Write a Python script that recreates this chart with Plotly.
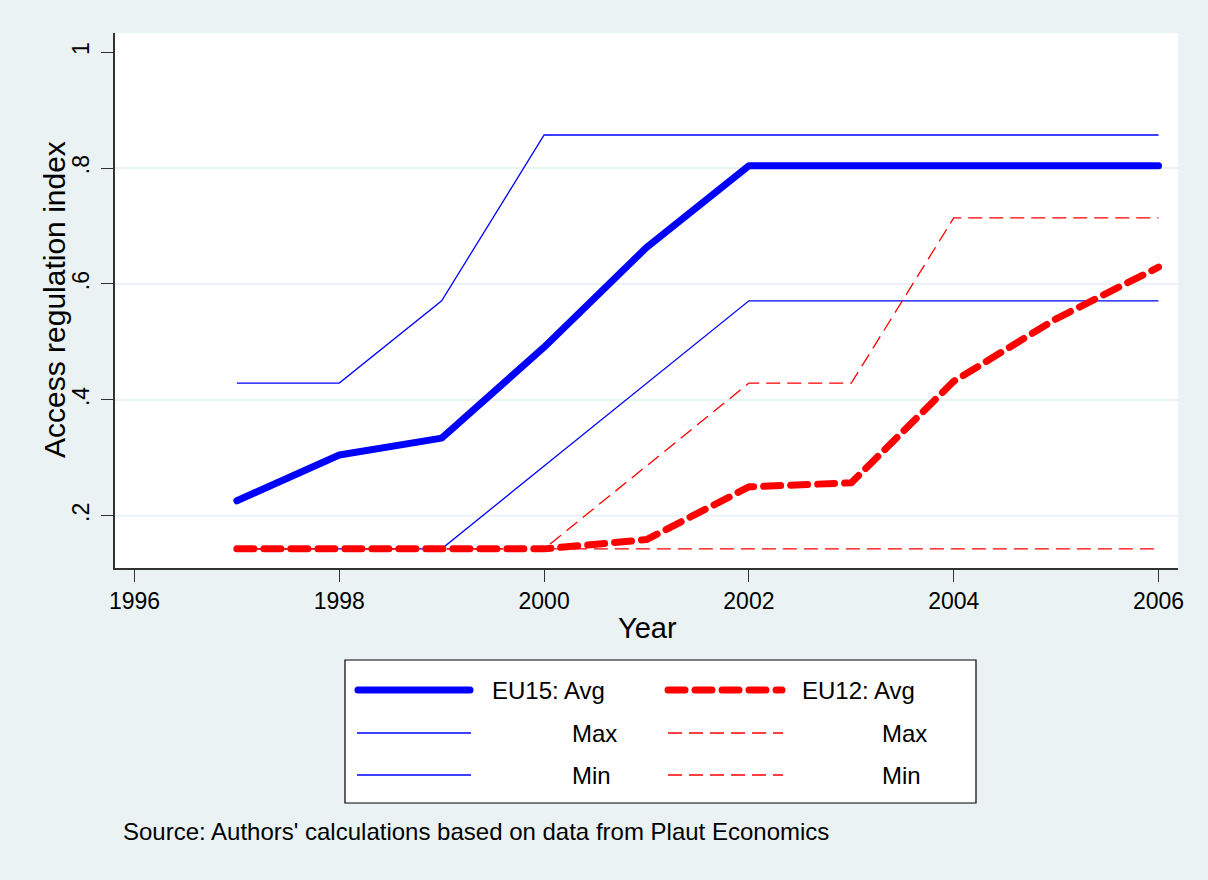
import plotly.graph_objects as go

# ---- data ----
years = [1997, 1998, 1999, 2000, 2001, 2002, 2003, 2004, 2005, 2006]
eu15_avg = [0.226, 0.305, 0.334, 0.491, 0.663, 0.804, 0.804, 0.804, 0.804, 0.804]
eu15_max = [0.429, 0.429, 0.571, 0.857, 0.857, 0.857, 0.857, 0.857, 0.857, 0.857]
eu15_min = [0.143, 0.143, 0.143, 0.286, 0.429, 0.571, 0.571, 0.571, 0.571, 0.571]
eu12_avg = [0.143, 0.143, 0.143, 0.143, 0.159, 0.250, 0.257, 0.432, 0.540, 0.629]
eu12_max = [0.143, 0.143, 0.143, 0.143, 0.286, 0.429, 0.429, 0.714, 0.714, 0.714]
eu12_min = [0.143, 0.143, 0.143, 0.143, 0.143, 0.143, 0.143, 0.143, 0.143, 0.143]

x_ticks = [1996, 1998, 2000, 2002, 2004, 2006]
y_ticks = [0.2, 0.4, 0.6, 0.8, 1.0]
y_ticklabels = [".2", ".4", ".6", ".8", "1"]

legend_labels = ["EU15: Avg", "EU12: Avg", "Max", "Max", "Min", "Min"]
source_note = "Source: Authors' calculations based on data from Plaut Economics"

# ---- style ----
BG = "rgb(234,242,243)"
BLUE = "rgb(0,0,255)"
RED = "rgb(255,0,0)"
FONT = "Liberation Sans, Arial, sans-serif"
W, H = 1208, 880
PL, PR, PT, PB = 115, 1178, 33, 568
THICK_DASH = "17px,10px"
THIN_DASH = "14px,7px"


def pxx(x):
    return (x - PL) / (PR - PL)


def pxy(y):
    return (PB - y) / (PB - PT)


fig = go.Figure()
series = [
    (eu15_avg, BLUE, 7, "solid"),
    (eu15_max, BLUE, 1.3, "solid"),
    (eu15_min, BLUE, 1.3, "solid"),
    (eu12_avg, RED, 7, THICK_DASH),
    (eu12_max, RED, 1.3, THIN_DASH),
    (eu12_min, RED, 1.3, THIN_DASH),
]
for vals, col, w, dash in series:
    fig.add_trace(go.Scatter(x=years, y=vals, mode="lines",
                             line=dict(color=col, width=w, dash=dash),
                             showlegend=False, hoverinfo="skip"))

shapes = []
# horizontal gridlines (not at the top tick)
for v in y_ticks[:-1]:
    shapes.append(dict(type="line", xref="paper", yref="y", x0=0, x1=1, y0=v, y1=v,
                       line=dict(color=BG, width=2), layer="below"))

# legend box
shapes.append(dict(type="rect", xref="paper", yref="paper",
                   x0=pxx(345), x1=pxx(976), y0=pxy(660), y1=pxy(803),
                   line=dict(color="black", width=1.2), fillcolor="white"))
rows = [690, 733, 775]
leg_samples = [
    (358, 470, rows[0], BLUE, 7, "solid"),
    (668, 782, rows[0], RED, 7, THICK_DASH),
    (357, 471, rows[1], BLUE, 1.3, "solid"),
    (668, 783, rows[1], RED, 1.3, THIN_DASH),
    (357, 471, rows[2], BLUE, 1.3, "solid"),
    (668, 783, rows[2], RED, 1.3, THIN_DASH),
]
for x0, x1, y, col, w, dash in leg_samples:
    shapes.append(dict(type="line", xref="paper", yref="paper",
                       x0=pxx(x0), x1=pxx(x1), y0=pxy(y), y1=pxy(y),
                       line=dict(color=col, width=w, dash=dash)))

annotations = []
leg_text_pos = [(490, rows[0]), (800, rows[0]), (570, rows[1]), (880, rows[1]),
                (570, rows[2]), (880, rows[2])]
for lab, (x, y) in zip(legend_labels, leg_text_pos):
    annotations.append(dict(text=lab, xref="paper", yref="paper", x=pxx(x), y=pxy(y),
                            xanchor="left", yanchor="middle", showarrow=False,
                            font=dict(size=24, color="black", family=FONT)))

annotations.append(dict(text=source_note, xref="paper", yref="paper", x=pxx(121), y=pxy(831),
                        xanchor="left", yanchor="middle", showarrow=False,
                        font=dict(size=24, color="black", family=FONT)))
# axis titles
annotations.append(dict(text="Year", xref="paper", yref="paper", x=pxx(647), y=pxy(628),
                        xanchor="center", yanchor="middle", showarrow=False,
                        font=dict(size=29, color="black", family=FONT)))
annotations.append(dict(text="Access regulation index", xref="paper", yref="paper",
                        x=pxx(54), y=pxy(300), textangle=-90,
                        xanchor="center", yanchor="middle", showarrow=False,
                        font=dict(size=30, color="black", family=FONT)))

fig.update_layout(
    width=W, height=H,
    margin=dict(l=PL, r=W - PR, t=PT, b=H - PB),
    paper_bgcolor=BG, plot_bgcolor="white",
    font=dict(family=FONT, size=23, color="black"),
    shapes=shapes, annotations=annotations,
    xaxis=dict(range=[1995.81, 2006.19], tickvals=x_ticks, ticktext=[str(t) for t in x_ticks],
               showgrid=False, zeroline=False, showline=True, linecolor="rgb(50,50,50)",
               linewidth=1.5, ticks="outside", ticklen=12, tickwidth=1.2, tickcolor="rgb(50,50,50)",
               tickfont=dict(size=23)),
    yaxis=dict(range=[0.110, 1.033], tickvals=y_ticks, ticktext=y_ticklabels,
               showgrid=False, zeroline=False, showline=True, linecolor="rgb(50,50,50)",
               linewidth=1.5, ticks="outside", ticklen=12, tickwidth=1.2, tickcolor="rgb(50,50,50)",
               tickangle=-90, tickfont=dict(size=23), ticklabelstandoff=3),
)

post = """
document.body.style.margin = '0';
document.body.style.background = 'rgb(234,242,243)';
function roundCaps() {
  document.querySelectorAll('path').forEach(function (p) {
    var w = parseFloat(p.style.strokeWidth || p.getAttribute('stroke-width') || '0');
    if (w >= 6) { p.style.strokeLinecap = 'round'; p.style.strokeLinejoin = 'round'; }
  });
}
roundCaps();
setTimeout(roundCaps, 50);
"""

fig.write_html("out.html", post_script=post, config={"displayModeBar": False})
